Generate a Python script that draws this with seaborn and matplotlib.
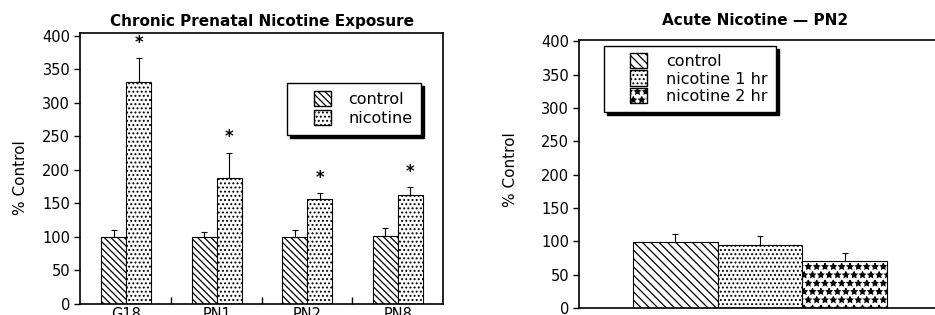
import numpy as np
import pandas as pd
import seaborn as sns
import matplotlib.pyplot as plt
from matplotlib.patches import Patch, Rectangle
from matplotlib.legend_handler import HandlerPatch

# ---- data ----
ages = ["G18", "PN1", "PN2", "PN8"]
chronic_groups = ["control", "nicotine"]
control_mean = [100, 100, 100, 102]
control_err = [10, 7, 11, 11]
nicotine_mean = [331, 188, 156, 162]
nicotine_err = [35, 37, 10, 13]
star_y = [389, 249, 188, 197]

acute_groups = ["control", "nicotine 1 hr", "nicotine 2 hr"]
acute_mean = [99, 95, 71]
acute_err = [12, 13, 11]

chronic_hatch = ["\\\\\\\\\\", "...."]
acute_hatch = ["\\\\\\\\", "....", "**"]

sns.set_style("white")
plt.rcParams["font.family"] = ["DejaVu Sans"]
plt.rcParams["hatch.linewidth"] = 0.9
for k in ["text.color", "axes.labelcolor", "xtick.color", "ytick.color",
          "axes.edgecolor"]:
    plt.rcParams[k] = "black"

df1 = pd.DataFrame({
    "age": ages * 2,
    "group": ["control"] * 4 + ["nicotine"] * 4,
    "value": control_mean + nicotine_mean,
})
errs1 = [control_err, nicotine_err]

df2 = pd.DataFrame({"cond": acute_groups, "value": acute_mean})


def small_box(legend, orig_handle, xdescent, ydescent, width, height, fontsize):
    w = 1.05 * fontsize
    h = 0.95 * fontsize
    return Rectangle((-xdescent + width - w, -ydescent + (height - h) / 2), w, h)


handler = {Patch: HandlerPatch(patch_func=small_box)}

fig = plt.figure(figsize=(9.35, 3.15), dpi=100)
ax1 = fig.add_axes([80 / 935, 1 - 304 / 315, 363 / 935, 271 / 315])
ax2 = fig.add_axes([579 / 935, 1 - 308 / 315, 362 / 935, 268 / 315])

# ---- left panel ----
sns.barplot(data=df1, x="age", y="value", hue="group", order=ages,
            hue_order=chronic_groups, palette=["white", "white"],
            saturation=1, edgecolor="black", linewidth=0.8,
            errorbar=None, width=0.55, legend=False, ax=ax1)
bar_conts1 = list(ax1.containers)
for ci, cont in enumerate(bar_conts1):
    for bi, bar in enumerate(list(cont)):
        bar.set_hatch(chronic_hatch[ci])
        x = bar.get_x() + bar.get_width() / 2
        h = bar.get_height()
        ax1.errorbar(x, h, yerr=[[0], [errs1[ci][bi]]], fmt="none",
                     ecolor="black", elinewidth=0.8, capsize=2.2, capthick=0.8)
        if ci == 1:
            ax1.text(x, star_y[bi], "*", ha="center", va="center",
                     fontsize=12, fontweight="bold")

ax1.set_xlim(-0.51, 3.5)
ax1.set_ylim(0, 404)
ax1.set_yticks(np.arange(0, 401, 50))
ax1.set_xlabel("")
ax1.set_ylabel("% Control", fontsize=11)
ax1.yaxis.set_label_coords(-0.143, 0.465)
ax1.tick_params(axis="y", direction="out", length=4, width=1, labelsize=10.5, left=True, pad=3)
ax1.tick_params(axis="x", length=0, labelsize=10.5, pad=2)
ax1.set_xticks([0.5, 1.5, 2.5], minor=True)
ax1.tick_params(axis="x", which="minor", direction="in", length=5, width=1, bottom=True)
for s in ax1.spines.values():
    s.set_linewidth(1.2)
ax1.set_title("Chronic Prenatal Nicotine Exposure", fontsize=11,
              fontweight="bold", pad=5)
h1 = [Patch(facecolor="white", edgecolor="black", hatch=chronic_hatch[i],
            label=chronic_groups[i]) for i in range(2)]
ax1.legend(handles=h1, handler_map=handler, loc="upper left",
           bbox_to_anchor=(0.57, 0.815),
           borderaxespad=0, fancybox=False, edgecolor="black", framealpha=1,
           shadow={"facecolor": "black", "edgecolor": "black", "alpha": 1},
           fontsize=11.5, handlelength=2.2, handleheight=0.9,
           handletextpad=1.1, labelspacing=0.25, borderpad=0.55)

# ---- right panel ----
sns.barplot(data=df2, x="cond", y="value", hue="cond", order=acute_groups,
            hue_order=acute_groups, palette=["white"] * 3, saturation=1,
            edgecolor="black", linewidth=0.8, errorbar=None, width=1,
            legend=False, ax=ax2)
bar_conts2 = list(ax2.containers)
for ci, cont in enumerate(bar_conts2):
    for bar in list(cont):
        bar.set_hatch(acute_hatch[ci])
        x = bar.get_x() + bar.get_width() / 2
        h = bar.get_height()
        ax2.errorbar(x, h, yerr=[[0], [acute_err[ci]]], fmt="none",
                     ecolor="black", elinewidth=0.8, capsize=2.2, capthick=0.8)

ax2.set_xlim(-1.14, 3.14)
ax2.set_ylim(0, 402)
ax2.set_yticks(np.arange(0, 401, 50))
ax2.set_xticks([])
ax2.set_xlabel("")
ax2.set_ylabel("% Control", fontsize=11)
ax2.yaxis.set_label_coords(-0.168, 0.515)
ax2.tick_params(axis="y", direction="out", length=4, width=1, labelsize=10.5, left=True, pad=3)
for s in ax2.spines.values():
    s.set_linewidth(1.2)
ax2.set_title("Acute Nicotine \u2014 PN2", fontsize=11, fontweight="bold",
              pad=11, x=0.486)
h2 = [Patch(facecolor="white", edgecolor="black", hatch=acute_hatch[i],
            label=acute_groups[i]) for i in range(3)]
ax2.legend(handles=h2, handler_map=handler, loc="upper left",
           bbox_to_anchor=(0.069, 0.978),
           borderaxespad=0, fancybox=False, edgecolor="black", framealpha=1,
           shadow={"facecolor": "black", "edgecolor": "black", "alpha": 1},
           fontsize=11.5, handlelength=2.2, handleheight=0.9,
           handletextpad=1.2, labelspacing=0.15, borderpad=0.5)

fig.savefig("out.png", dpi=100)
